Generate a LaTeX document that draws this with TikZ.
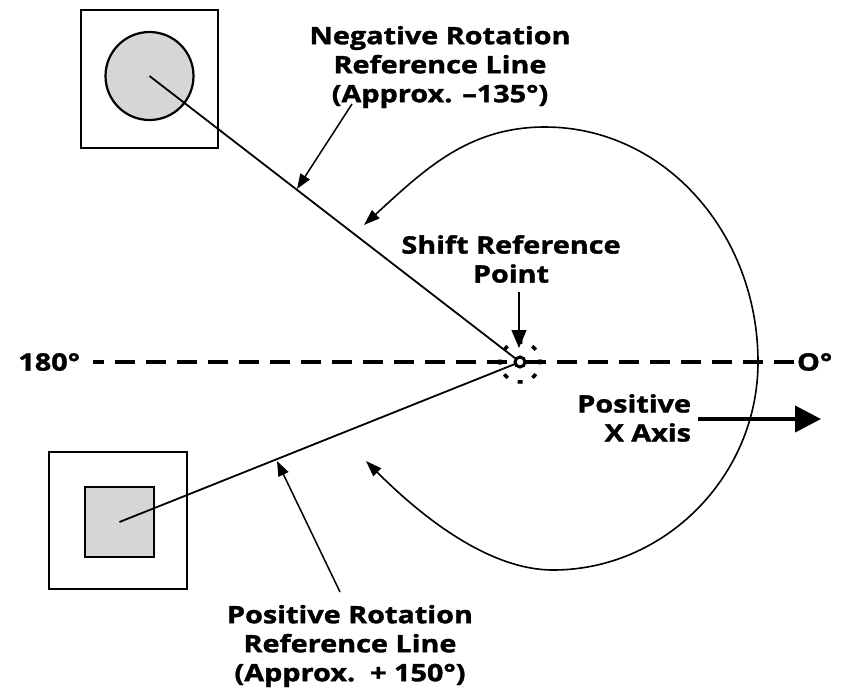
\documentclass[tikz,border=0pt]{standalone}
\usepackage{fontspec}
\setmainfont{Open Sans}[FakeStretch=1.2, BoldFeatures={FakeBold=1.5}]
\usetikzlibrary{arrows.meta}
\begin{document}
\begin{tikzpicture}[x=1pt,y=-1pt,
  every node/.style={inner sep=0pt, outer sep=0pt},
  lbl/.style={font=\bfseries\fontsize{24}{29}\selectfont, align=center},
  frame/.style={draw, line width=2.4pt},
  shade/.style={draw, line width=2.2pt, fill=black!16},
  refline/.style={line width=1.8pt},
  leader/.style={line width=1.5pt, -{Triangle[length=15pt,width=11pt]}},
  axisdash/.style={line width=4pt, dash pattern=on 20pt off 11pt},
  ring/.style={line width=3.5pt, dash pattern=on 5pt off 10.71pt, dash phase=2.5pt},
  bigarc/.style={line width=1.6pt, {Triangle[length=16pt,width=11pt]}-{Triangle[length=16pt,width=11pt]}}
]
\useasboundingbox (0,0) rectangle (846,694);

% top-left target
\node[frame, minimum width=137pt, minimum height=138pt] (sqA) at (149.5,79) {};
\node[shade, circle, minimum size=88pt] (circA) at (149.5,76) {};
% bottom-left target
\node[frame, minimum width=138pt, minimum height=137pt] (sqB) at (118,520.5) {};
\node[shade, minimum width=69pt, minimum height=70pt] (sqIn) at (119.5,522) {};

% centre point
\coordinate (Oc) at (520,362);
\draw[ring] (Oc) circle (20pt);
\coordinate (axL) at (93,362);
\coordinate (axR) at (795,362);
\draw[axisdash, dash phase=9pt] (axL) -- (Oc);
\draw[axisdash] ([xshift=6pt]Oc) -- (axR);

% reference lines
\draw[refline] (circA.center) -- (Oc);
\draw[refline] (sqIn.center) -- (Oc);
\node[circle, draw, line width=3pt, fill=white, minimum size=10pt] (O) at (Oc) {};

% labels
\node[lbl] (neg) at (440,67) {Negative Rotation\\Reference Line\\(Approx. –135°)};
\node[lbl] (shift) at (511,259) {Shift Reference\\Point};
\node[lbl] (pos) at (350,646) {Positive Rotation\\Reference Line\\(Approx.\ \ + 150°)};
\node[lbl, align=right, anchor=east] (px) at (691,418) {Positive\\X Axis};
\node[lbl, anchor=east] (d180) at (80,362) {180°};
\node[lbl, anchor=west] (d0) at (797,362) {O°};

% leaders
\coordinate (negS) at (352,104);
\coordinate (negE) at (297,189);
\draw[leader] (negS) -- (negE);
\coordinate (posS) at (340,592);
\coordinate (posE) at (277,461);
\draw[leader] (posS) -- (posE);
\coordinate (shS) at (519,292);
\coordinate (shE) at (519,348);
\draw[leader, -{Triangle[length=18pt,width=15pt]}] (shS) -- (shE);

% positive x axis arrow
\coordinate (axS) at (698,419);
\coordinate (axE) at (821,419);
\draw[line width=4pt, -{Triangle[length=26pt,width=26pt]}] (axS) -- (axE);

% big rotation arc
\coordinate (arcA) at (364,225);
\coordinate (arcT) at (545,127);
\coordinate (arcR) at (758,362);
\coordinate (arcB) at (553,570);
\coordinate (arcZ) at (366,461);
\draw[bigarc] (arcA) .. controls (424,170) and (468,127) .. (arcT)
  .. controls (664,127) and (758,233) .. (arcR)
  .. controls (758,476) and (665,570) .. (arcB)
  .. controls (480,570) and (406,501) .. (arcZ);
\end{tikzpicture}
\end{document}
